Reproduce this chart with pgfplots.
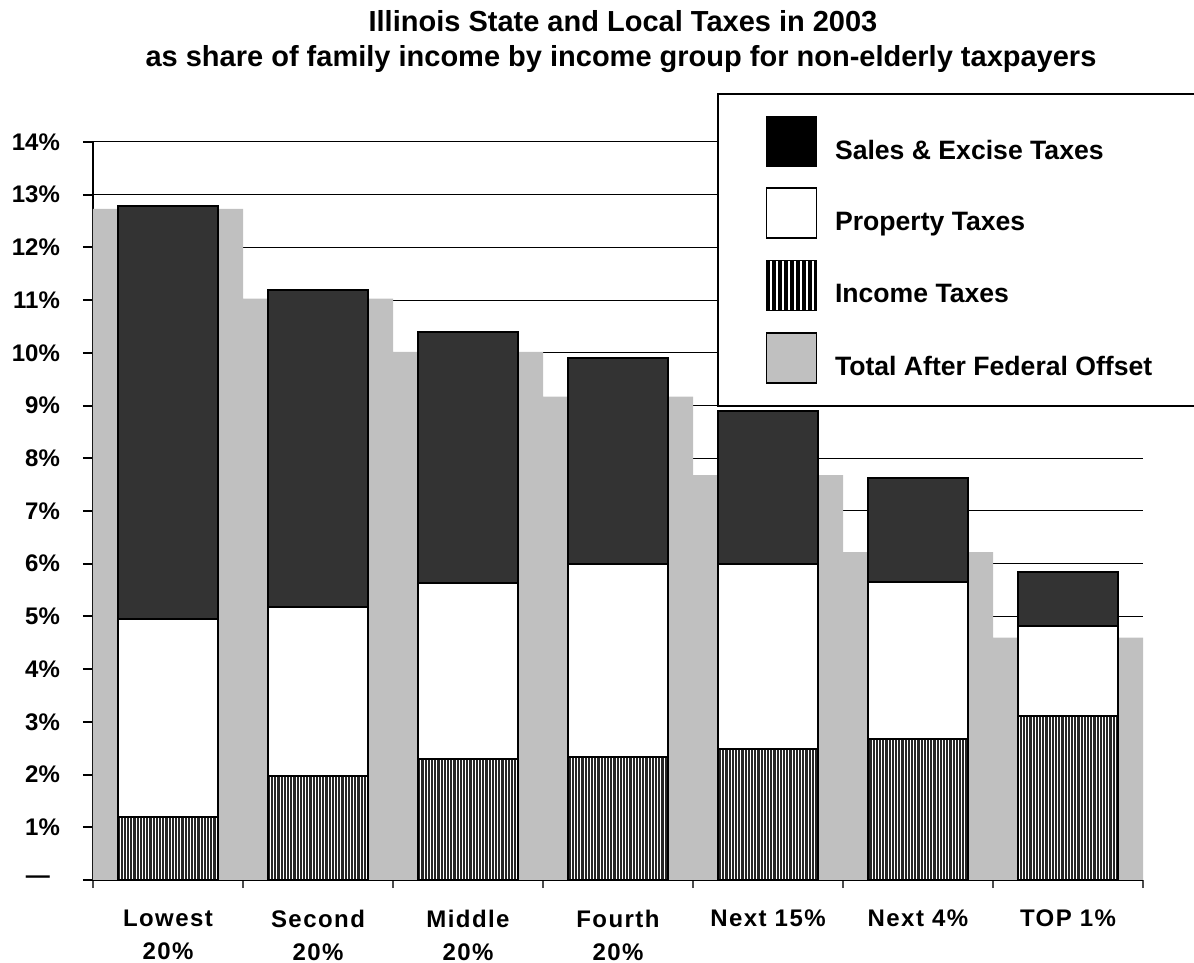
\documentclass[border=0pt]{standalone}
\usepackage{fontspec}
\setmainfont{Liberation Sans}
\usepackage{pgfplots}
\pgfplotsset{compat=1.18}
\usetikzlibrary{patterns.meta}
\definecolor{salesc}{HTML}{333333}
\definecolor{grayc}{HTML}{C0C0C0}
\begin{document}
\begin{tikzpicture}
\pgfplotsset{
  base/.style={scale only axis, width=525pt, height=369pt,
    xmin=-0.5, xmax=6.5, ymin=0, ymax=14, at={(0pt,0pt)}, anchor=south west},
}
% background: grid, axes, gray bars (Total After Federal Offset)
\begin{axis}[base,
  axis x line*=bottom, axis y line*=left,
  axis line style={line width=0.8pt, -},
  ybar, bar width=75pt,
  ytick={0,...,14},
  yticklabels={\textemdash\hspace*{5pt},1\%,2\%,3\%,4\%,5\%,6\%,7\%,8\%,9\%,10\%,11\%,12\%,13\%,14\%},
  ymajorgrids, major grid style={black, line width=0.5pt},
  tick align=outside, major tick length=5pt,
  y tick style={black, line width=1pt},
  xtick={0,...,6},
  xticklabels={{Lowest\\20\%},{Second\\20\%},{Middle\\20\%},{Fourth\\20\%},{Next 15\%},{Next 4\%},{TOP 1\%}},
  major x tick style={draw=none},
  minor xtick={-0.5,0.5,...,6.5}, minor tick length=4pt,
  minor x tick style={black!70, line width=0.6pt},
  yticklabel style={font=\bfseries\fontsize{12}{13}\selectfont, xshift=-8pt},
  xticklabel style={align=center, font=\bfseries\fontsize{12}{16.5}\selectfont\addfontfeature{LetterSpace=6}, yshift=-6.5pt},
]
\addplot[fill=grayc, draw=none] coordinates {(0,12.73) (1,11.03) (2,10.02) (3,9.17) (4,7.68) (5,6.22) (6,4.60)};
\end{axis}
% foreground: stacked bars and legend
\begin{axis}[base,
  ybar stacked, bar width=50pt,
  axis lines=none, xtick=\empty, ytick=\empty,
  legend image code/.code={\draw[#1] (0pt,-7.75pt) rectangle (25pt,17.25pt);},
  legend cell align=left,
  legend style={at={(rel axis cs:0.5943,1.0664)}, anchor=north west,
    draw=black, line width=0.8pt, fill=white,
    inner xsep=23.5pt, inner ysep=11pt,
    row sep=10pt, column sep=8.5pt,
    nodes={inner sep=0pt},
    font=\bfseries\fontsize{13.3}{15}\selectfont},
]
\addlegendimage{fill=black, draw=black, line width=0.8pt}
\addlegendentry{Sales \& Excise Taxes}
\addlegendimage{fill=white, draw=black, line width=0.8pt}
\addlegendentry{Property Taxes}
\addlegendimage{fill=white, draw=black, line width=0.8pt, postaction={pattern={Lines[angle=90,distance=3pt,line width=1.6pt]}, pattern color=black}}
\addlegendentry{Income Taxes}
\addlegendimage{fill=grayc, draw=black, line width=0.8pt}
\addlegendentry{Total After Federal Offset\hspace*{70pt}}
% income
\addplot[forget plot, fill=white, draw=black, line width=1pt,
  postaction={pattern={Lines[angle=90,distance=1.6pt,line width=1.1pt]}, pattern color=black!85}]
  coordinates {(0,1.20) (1,1.98) (2,2.30) (3,2.33) (4,2.48) (5,2.68) (6,3.12)};
% property
\addplot[forget plot, fill=white, draw=black, line width=1pt]
  coordinates {(0,3.75) (1,3.19) (2,3.33) (3,3.67) (4,3.52) (5,2.97) (6,1.70)};
% sales & excise
\addplot[forget plot, fill=salesc, draw=black, line width=1pt]
  coordinates {(0,7.83) (1,6.03) (2,4.77) (3,3.90) (4,2.90) (5,1.97) (6,1.03)};
\end{axis}
\node[anchor=base, inner sep=0pt, font=\bfseries\fontsize{14.5}{17}\selectfont] at (265pt,424pt)
  {Illinois State and Local Taxes in 2003};
\node[anchor=base, inner sep=0pt, font=\bfseries\fontsize{14.5}{17}\selectfont] at (264pt,406.5pt)
  {as share of family income by income group for non-elderly taxpayers};
\pgfresetboundingbox
\useasboundingbox (-46.5pt,-41.5pt) rectangle (550.5pt,440pt);
\end{tikzpicture}
\end{document}
